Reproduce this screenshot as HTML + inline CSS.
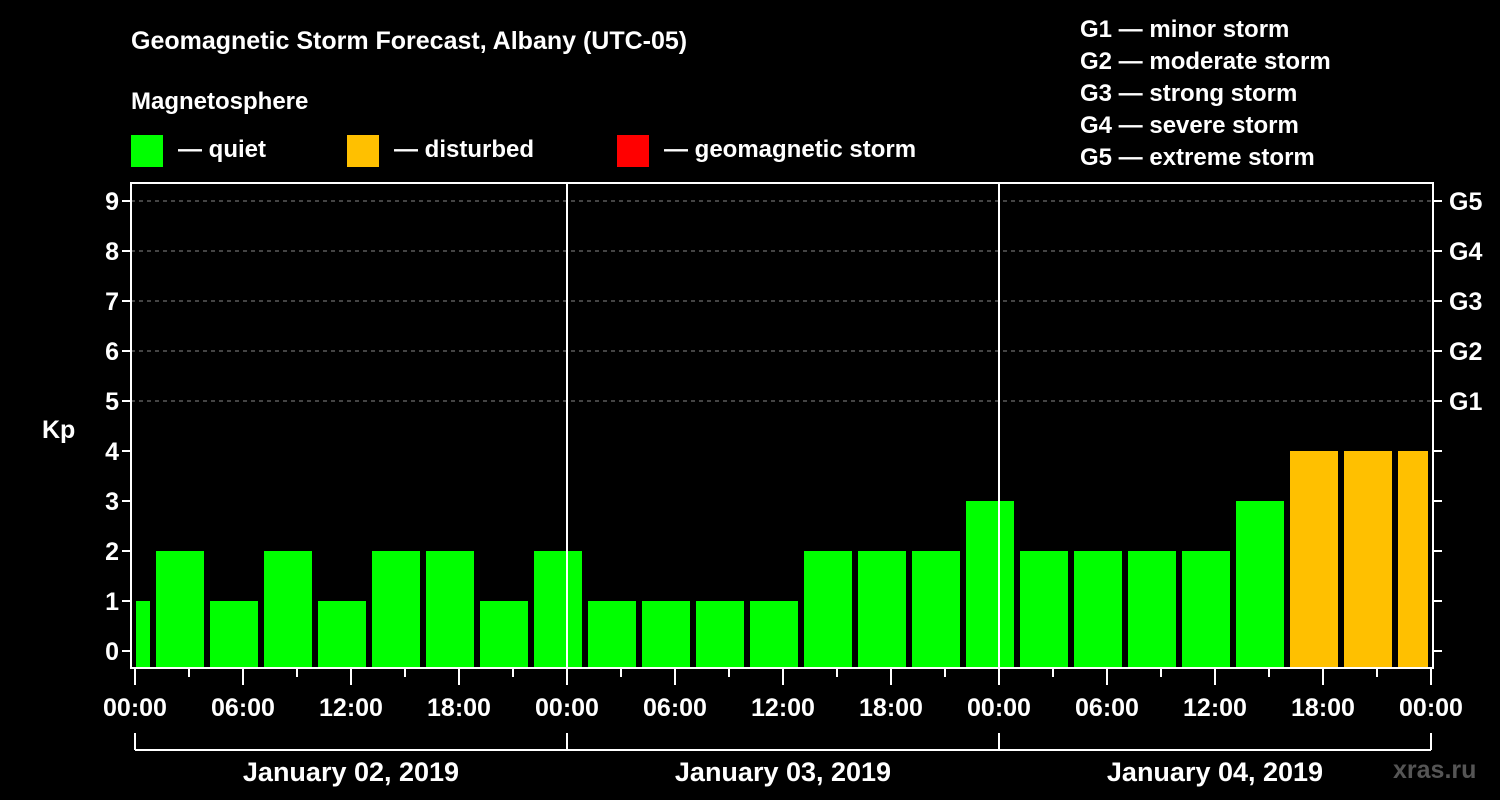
<!DOCTYPE html>
<html><head><meta charset="utf-8"><style>
body{margin:0;background:#000;}
svg{display:block;font-family:"Liberation Sans",sans-serif;font-weight:bold;}
</style></head><body>
<svg id="chart" width="1500" height="800" viewBox="0 0 1500 800">
<rect width="1500" height="800" fill="#000"/>
<text x="131" y="49" fill="#fff" font-size="25">Geomagnetic Storm Forecast, Albany (UTC-05)</text>
<text x="131" y="109" fill="#fff" font-size="24">Magnetosphere</text>
<g><rect x="131" y="135" width="32" height="32" fill="#00ff00"/><text x="178" y="157" fill="#fff" font-size="24">— quiet</text></g>
<g><rect x="347" y="135" width="32" height="32" fill="#ffc000"/><text x="394" y="157" fill="#fff" font-size="24">— disturbed</text></g>
<g><rect x="617" y="135" width="32" height="32" fill="#ff0000"/><text x="664" y="157" fill="#fff" font-size="24">— geomagnetic storm</text></g>
<g fill="#fff" font-size="24">
<text x="1080" y="37">G1 — minor storm</text>
<text x="1080" y="69">G2 — moderate storm</text>
<text x="1080" y="101">G3 — strong storm</text>
<text x="1080" y="133">G4 — severe storm</text>
<text x="1080" y="165">G5 — extreme storm</text>
</g>
<text x="42" y="438" fill="#fff" font-size="25">Kp</text>
<text x="1393" y="778" fill="#555" font-size="25">xras.ru</text>
<g id="plot"></g>
</svg>
<script>
const kpValues=[1,2,1,2,1,2,2,1,2,1,1,1,1,2,2,2,3,2,2,2,2,3,4,4,4];
const yTicks=[0,1,2,3,4,5,6,7,8,9];
const gLabels=["G1","G2","G3","G4","G5"];
const xTickLabels=["00:00","06:00","12:00","18:00","00:00","06:00","12:00","18:00","00:00","06:00","12:00","18:00","00:00"];
const dayLabels=["January 02, 2019","January 03, 2019","January 04, 2019"];
const NS="http://www.w3.org/2000/svg";
const g=document.getElementById('plot');
const L=131,R=1433,T=183,B=668,X0=135,PXH=18;
const xs=h=>X0+h*PXH;
const ys=v=>651-50*v;
function mk(t,a,p){const e=document.createElementNS(NS,t);for(const k in a)e.setAttribute(k,a[k]);(p||g).appendChild(e);return e;}
// grid
for(let v=5;v<=9;v++){const l=mk('line',{x1:L,x2:R,y1:ys(v),y2:ys(v),stroke:'#888','stroke-dasharray':'4,4','stroke-width':1});

}
// bars
kpValues.forEach((v,i)=>{
 const h0=-2+3*i;let x1=xs(h0)+3,x2=xs(h0+3)-3;
 x1=Math.max(x1,136);x2=Math.min(x2,1428);
 const c=v>=5?'#ff0000':(v>=4?'#ffc000':'#00ff00');
 const r=mk('rect',{x:x1,y:ys(v),width:x2-x1,height:B-ys(v),fill:c});
 
 
});
// day separators
[24,48].forEach(h=>{const l=mk('line',{x1:xs(h),x2:xs(h),y1:T,y2:B,stroke:'#fff','stroke-width':2});

});
// frame
const fr=mk('rect',{x:L,y:T,width:R-L,height:B-T,fill:'none',stroke:'#fff','stroke-width':2});


// y ticks
yTicks.forEach(v=>{
 mk('line',{x1:L-9,x2:L,y1:ys(v),y2:ys(v),stroke:'#fff','stroke-width':2});
 mk('line',{x1:R,x2:R+9,y1:ys(v),y2:ys(v),stroke:'#fff','stroke-width':2});
 const t=mk('text',{x:L-12,y:ys(v)+9,fill:'#fff','font-size':25,'text-anchor':'end'});t.textContent=v;
 
 
});
gLabels.forEach((s,i)=>{const t=mk('text',{x:1449,y:ys(5+i)+9,fill:'#fff','font-size':25});t.textContent=s;
 
 });
// x ticks
for(let h=0;h<=72;h+=3){const major=h%6===0;mk('line',{x1:xs(h),x2:xs(h),y1:B,y2:major?685:677,stroke:'#fff','stroke-width':2});}
xTickLabels.forEach((s,i)=>{const t=mk('text',{x:xs(i*6),y:716,fill:'#fff','font-size':25,'text-anchor':'middle'});t.textContent=s;
 
 });
// day bracket
mk('line',{x1:xs(0),x2:xs(72),y1:750,y2:750,stroke:'#fff','stroke-width':2});
for(let d=0;d<=3;d++)mk('line',{x1:xs(d*24),x2:xs(d*24),y1:733,y2:750,stroke:'#fff','stroke-width':2});
dayLabels.forEach((s,i)=>{const t=mk('text',{x:xs(i*24+12),y:781,fill:'#fff','font-size':27,'text-anchor':'middle'});t.textContent=s;
 
 });
</script>
</body></html>
